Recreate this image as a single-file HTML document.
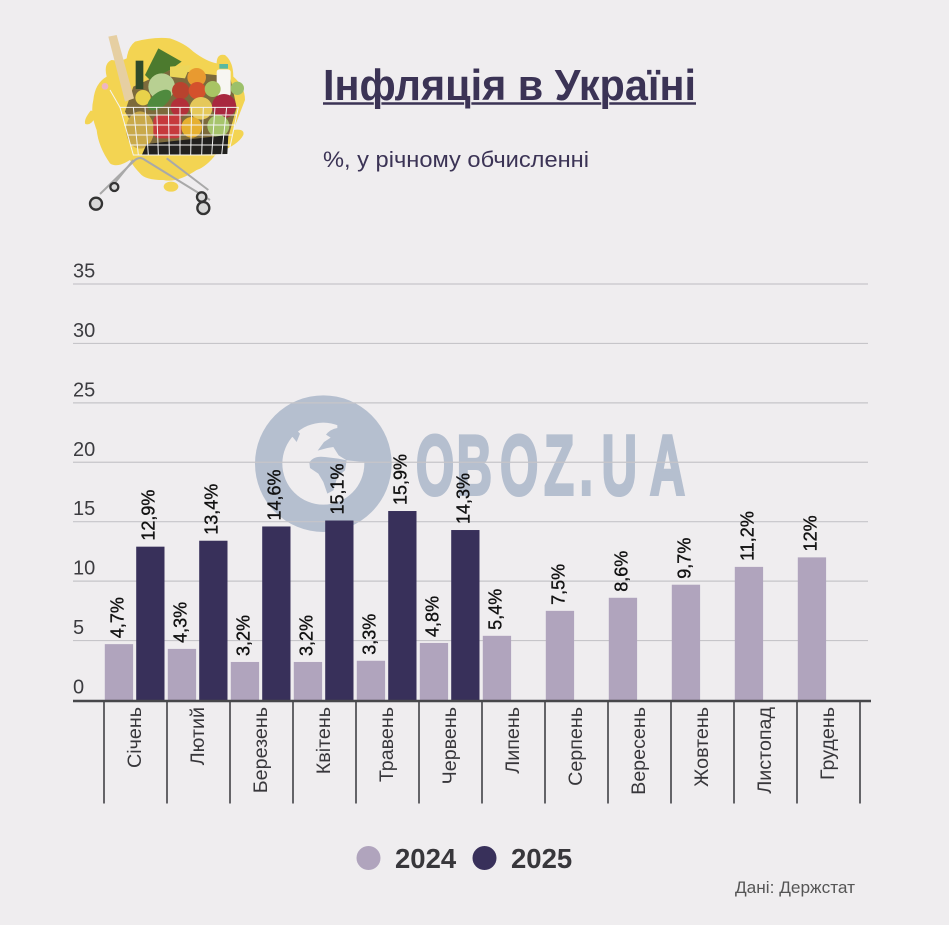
<!DOCTYPE html>
<html lang="uk">
<head>
<meta charset="utf-8">
<title>Інфляція в Україні</title>
<style>
html,body{margin:0;padding:0;background:#efedef;}
body{width:949px;height:925px;overflow:hidden;}
svg{display:block;font-family:"Liberation Sans",sans-serif;}
</style>
</head>
<body>
<svg id="chart" width="949" height="925" viewBox="0 0 949 925" xmlns="http://www.w3.org/2000/svg">
  <rect x="0" y="0" width="949" height="925" fill="#efedef"/>

  <g transform="translate(70,20) scale(0.33333)">
    <path fill="#f3d452" d="M195,65 Q250,50 300,55 Q345,70 370,95 Q410,125 440,130 Q440,100 465,105 Q490,125 490,170 Q525,200 525,240 L490,330 Q525,325 520,345 Q505,375 440,400 Q410,440 380,450 Q320,490 280,480 Q225,480 210,460 Q190,440 180,420 Q140,445 120,430 Q85,380 80,330 Q60,280 70,240 Q75,190 110,170 Q100,130 125,120 Q150,125 170,115 Q175,80 195,65 Z"/>
    <path fill="#f3d452" d="M62,272 Q78,272 76,292 Q62,318 46,312 Q40,300 62,272 Z"/>
    <ellipse cx="303" cy="500" rx="22" ry="15" fill="#f3d452"/>
    <polygon fill="#7c6a3c" points="190,200 300,150 480,170 500,262 475,350 225,375 165,275"/>
    <polygon fill="#e6cfa2" points="115,50 140,45 192,235 165,245"/>
    <rect x="197" y="122" width="23" height="85" fill="#2f4a2a"/>
    <polygon fill="#4c7a2e" points="265,85 335,125 300,150 240,180 225,165 245,125"/>
    <polygon fill="#ecd65a" points="300,140 362,135 345,175 300,170"/>
    <circle cx="380" cy="172" r="28" fill="#e89a30"/>
    <circle cx="275" cy="200" r="40" fill="#b8d092"/>
    <rect x="440" y="148" width="42" height="80" rx="8" fill="#f7f6f2"/>
    <rect x="448" y="132" width="26" height="14" fill="#58b8a0"/>
    <circle cx="502" cy="205" r="20" fill="#9cc06a"/>
    <circle cx="219" cy="233" r="23" fill="#e8d24a"/>
    <ellipse cx="268" cy="240" rx="42" ry="22" transform="rotate(-38 268 240)" fill="#4f8a3e"/>
    <circle cx="332" cy="212" r="26" fill="#b8432e"/>
    <circle cx="382" cy="212" r="26" fill="#d4512c"/>
    <circle cx="428" cy="207" r="24" fill="#a8c464"/>
    <circle cx="462" cy="258" r="36" fill="#a8283f"/>
    <circle cx="393" cy="265" r="34" fill="#e5c85a"/>
    <circle cx="330" cy="262" r="28" fill="#b3303a"/>
    <ellipse cx="210" cy="330" rx="42" ry="56" fill="#c9a94a"/>
    <rect x="250" y="285" width="85" height="70" rx="18" fill="#c63a3c"/>
    <circle cx="365" cy="322" r="31" fill="#e6b030"/>
    <circle cx="445" cy="318" r="33" fill="#a6c46c"/>
    <polygon fill="#22211f" points="230,372 475,345 472,402 215,406"/>
    <g stroke="#f4f4f2" stroke-width="3" fill="none">
      <polygon points="150,262 505,262 475,405 190,405"/>
      <path d="M155,285 H500 M162,315 H495 M172,345 H488 M180,375 H482 M190,262 L205,405 M225,262 L235,405 M260,262 L265,405 M295,262 L298,405 M330,262 L330,405 M365,262 L362,405 M400,262 L395,405 M435,262 L425,405 M470,262 L455,405 M120,210 L150,262"/>
    </g>
    <circle cx="105" cy="199" r="10" fill="#eeb6c2"/>
    <g stroke="#a9a9a9" stroke-width="6" fill="none">
      <path d="M90,522 L195,420 Q210,408 225,420 L420,540"/>
      <path d="M135,488 L190,420 M290,415 L415,510"/>
    </g>
    <g stroke="#333" stroke-width="7" fill="#d8d8d8">
      <circle cx="78" cy="551" r="18"/>
      <circle cx="400" cy="564" r="18"/>
      <circle cx="133" cy="501" r="12"/>
      <circle cx="395" cy="531" r="14"/>
    </g>
  </g>

  <g id="watermark">
    <g transform="translate(250,392) scale(0.33333)">
      <circle cx="220" cy="215" r="205" fill="#b5bfcf"/>
      <circle cx="220" cy="215" r="123" fill="#efedef"/>
      <path fill="#b5bfcf" d="M262,92 L262,108 Q240,112 228,128 L242,137 L222,150 L203,176 L232,168 L250,165 L266,190 L290,205 L345,210 L365,150 L315,85 Z"/>
      <path fill="#b5bfcf" d="M178,212 Q190,190 225,195 L265,200 L290,205 L285,235 L262,255 L250,295 L232,305 L220,270 L205,245 L180,228 Z"/>
      <path fill="#b5bfcf" d="M105,142 L128,135 L140,150 L150,125 L130,105 L100,130 Z"/>
    </g>
    <text transform="scale(0.58,1)" x="717 787 862 938 999 1037 1120" y="494.500" font-size="85" font-weight="700" fill="#b5bfcf" stroke="#b5bfcf" stroke-width="3">OBOZ.UA</text>
  </g>

  <line x1="323" y1="103.5" x2="696" y2="103.5" stroke="#3b3355" stroke-width="2.6"/>
  <text x="323" y="100" font-size="44" font-weight="700" fill="#3b3355" stroke="#efedef" stroke-width="2.4" paint-order="stroke" textLength="373" lengthAdjust="spacingAndGlyphs">Інфляція в Україні</text>
  <text x="323" y="167" font-size="22" fill="#3b3355" textLength="266" lengthAdjust="spacingAndGlyphs">%, у річному обчисленні</text>

  <g id="grid"></g>
  <g id="bars"></g>
  <g id="xaxis"></g>
  <g id="labels"></g>

  <g>
    <g>
      <circle cx="368.500" cy="858" r="12" fill="#b0a4bd"/>
      <text x="395" y="868" font-size="27.5" font-weight="700" fill="#38373b">2024</text>
    </g>
    <g>
      <circle cx="484.500" cy="858" r="12" fill="#38305a"/>
      <text x="511" y="868" font-size="27.5" font-weight="700" fill="#38373b">2025</text>
    </g>
  </g>
  <text x="735" y="893" font-size="16.5" fill="#555" textLength="120" lengthAdjust="spacingAndGlyphs">Дані: Держстат</text>
</svg>

<script>
const months = ['Січень','Лютий','Березень','Квітень','Травень','Червень','Липень','Серпень','Вересень','Жовтень','Листопад','Грудень'];
const values2024 = [4.7,4.3,3.2,3.2,3.3,4.8,5.4,7.5,8.6,9.7,11.2,12];
const values2025 = [12.9,13.4,14.6,15.1,15.9,14.3,null,null,null,null,null,null];
const yTicks = [0,5,10,15,20,25,30,35];

const NS = 'http://www.w3.org/2000/svg';
function yScale(v){ return 700 - v * 11.886; }
function xScale(i){ return 104 + i * 63; }

function make(tag, parent, attrs, text){
  const el = document.createElementNS(NS, tag);
  for (const k in attrs) el.setAttribute(k, attrs[k]);
  if (text !== undefined) el.textContent = text;
  parent.appendChild(el);
  return el;
}
function fmt(v){ return String(v).replace('.', ',') + '%'; }

const grid = document.getElementById('grid');
const bars = document.getElementById('bars');
const xaxis = document.getElementById('xaxis');
const labels = document.getElementById('labels');

yTicks.forEach(function(t){
  const y = yScale(t);
  if (t > 0) {
    const line = make('line', grid, {x1:73, x2:868, y1:y, y2:y, stroke:'#c6c5c9', 'stroke-width':1.2});
    
    
  }
  const tick = make('text', grid, {x:73, y:y - 6.500, 'font-size':20, fill:'#3c3c40'}, String(t));
  
  
});

function drawBar(value, i, offset, fill, year){
  if (value === null) return;
  const x = xScale(i) + offset;
  const top = yScale(value);
  const bar = make('rect', bars, {x:x, y:top, width:28.300, height:700 - top, fill:fill});
  
  
  const tx = x + 14 + 4.500;
  const ty = top - 6;
  const label = make('text', labels, {x:tx, y:ty, 'font-size':18, fill:'#111', stroke:'#111', 'stroke-width':0.35, transform:'rotate(-90 ' + tx + ' ' + ty + ')'}, fmt(value));
  
  
}
values2024.forEach(function(v, i){ drawBar(v, i, 0.8, '#b0a4bd', 2024); });
values2025.forEach(function(v, i){ drawBar(v, i, 32.2, '#38305a', 2025); });

for (let i = 0; i <= months.length; i++) {
  const tick = make('line', xaxis, {x1:xScale(i), x2:xScale(i), y1:701, y2:803.500, stroke:'#2a2a2e', 'stroke-width':1.4});
  
  
}
months.forEach(function(m, i){
  const tx = xScale(i) + 37;
  const ty = 707;
  const label = make('text', xaxis, {x:tx, y:ty, 'font-size':19.7, fill:'#38373b', 'text-anchor':'end', transform:'rotate(-90 ' + tx + ' ' + ty + ')'}, m);
  
  
});
const axisLine = make('line', xaxis, {x1:73, x2:871, y1:701, y2:701, stroke:'#47474a', 'stroke-width':2.6});


</script>
</body>
</html>
